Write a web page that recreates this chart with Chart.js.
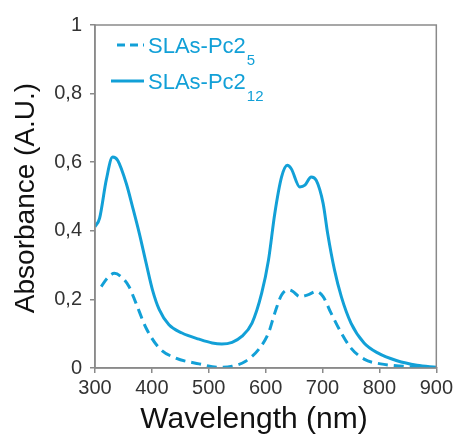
<!DOCTYPE html>
<html>
<head>
<meta charset="utf-8">
<script src="https://cdn.jsdelivr.net/npm/chart.js@4/dist/chart.umd.min.js"></script>
<style>
  html, body { margin: 0; padding: 0; background: #fff; }
  #wrap { width: 456px; height: 436px; }
</style>
</head>
<body>
<div id="wrap"><canvas id="chart" width="456" height="436"></canvas></div>
<script>
// SLAs-Pc2_12 (solid)
const wlSolid = [300, 308, 320, 331, 340, 355, 366, 378, 390, 401, 413, 430, 453, 483, 506, 523, 541, 558, 576, 593, 605, 616, 628, 638, 645, 660, 669, 680, 689, 701, 709, 721, 733, 750, 773, 797, 831, 866, 900];
const absSolid = [0.412, 0.436, 0.55, 0.615, 0.605, 0.538, 0.47, 0.392, 0.305, 0.228, 0.17, 0.126, 0.102, 0.084, 0.073, 0.07, 0.075, 0.092, 0.131, 0.218, 0.315, 0.45, 0.557, 0.591, 0.581, 0.528, 0.533, 0.557, 0.547, 0.48, 0.392, 0.286, 0.208, 0.131, 0.073, 0.044, 0.021, 0.008, 0.002];

// SLAs-Pc2_5 (dashed)
const wlDashed = [311, 320, 334, 346, 360, 372, 390, 413, 442, 483, 517, 541, 564, 587, 605, 616, 628, 640, 648, 660, 674, 689, 701, 715, 733, 750, 773, 802, 843, 900];
const absDashed = [0.237, 0.259, 0.276, 0.266, 0.237, 0.189, 0.116, 0.058, 0.029, 0.012, 0.002, 0.005, 0.019, 0.053, 0.102, 0.16, 0.213, 0.228, 0.223, 0.208, 0.213, 0.223, 0.208, 0.16, 0.102, 0.058, 0.026, 0.012, 0.005, 0];

const xTicks = [300, 400, 500, 600, 700, 800, 900];
const yTicks = [0, 0.2, 0.4, 0.6, 0.8, 1];

const blue = '#12a0d7';
const axisGray = '#8a8a8a';
const FONT = "'Liberation Sans', Arial, sans-serif";

const toPoints = (xs, ys) => xs.map((x, i) => ({ x: x, y: ys[i] }));

// frame, axis titles and legend (legend has subscripts, so drawn by hand)
const extras = {
  id: 'extras',
  afterDraw(chart) {
    const ctx = chart.ctx;
    const a = chart.chartArea;
    ctx.save();
    ctx.strokeStyle = axisGray;
    ctx.lineWidth = 1.5;
    ctx.strokeRect(a.left, a.top, a.right - a.left, a.bottom - a.top);

    // axis titles
    ctx.fillStyle = '#111';
    ctx.textAlign = 'center';
    ctx.textBaseline = 'middle';
    ctx.font = '30px ' + FONT;
    ctx.fillText('Wavelength (nm)', 254, 420);
    ctx.save();
    ctx.translate(26, 198);
    ctx.rotate(-Math.PI / 2);
    ctx.font = '28px ' + FONT;
    ctx.fillText('Absorbance (A.U.)', 0, 0);
    ctx.restore();

    // legend
    ctx.strokeStyle = blue;
    ctx.lineWidth = 3;
    ctx.setLineDash([8, 5]);
    ctx.beginPath();
    ctx.moveTo(117, 45);
    ctx.lineTo(144, 45);
    ctx.stroke();
    ctx.setLineDash([]);
    ctx.beginPath();
    ctx.moveTo(111, 81);
    ctx.lineTo(144, 81);
    ctx.stroke();

    ctx.fillStyle = blue;
    ctx.textAlign = 'left';
    ctx.textBaseline = 'alphabetic';
    ctx.font = '22px ' + FONT;
    ctx.fillText('SLAs-Pc2', 148, 53);
    let w = ctx.measureText('SLAs-Pc2').width;
    ctx.fillText('SLAs-Pc2', 148, 89);
    ctx.font = '15px ' + FONT;
    ctx.fillText('5', 148 + w + 1, 65);
    ctx.fillText('12', 148 + w + 1, 101);
    ctx.restore();
  }
};

new Chart(document.getElementById('chart'), {
  type: 'line',
  data: {
    datasets: [
      {
        label: 'SLAs-Pc2_5',
        data: toPoints(wlDashed, absDashed),
        borderColor: blue,
        borderWidth: 3,
        borderDash: [10, 6],
        pointRadius: 0,
        cubicInterpolationMode: 'monotone',
        fill: false
      },
      {
        label: 'SLAs-Pc2_12',
        data: toPoints(wlSolid, absSolid),
        borderColor: blue,
        borderWidth: 3,
        pointRadius: 0,
        cubicInterpolationMode: 'monotone',
        fill: false
      }
    ]
  },
  options: {
    responsive: false,
    animation: false,
    layout: { padding: { left: 0, right: 17, top: 25, bottom: 0 } },
    plugins: { legend: { display: false }, tooltip: { enabled: false } },
    scales: {
      x: {
        type: 'linear',
        min: 300,
        max: 900,
        afterBuildTicks: (s) => { s.ticks = xTicks.map(v => ({ value: v })); },
        afterFit: (s) => { s.height = 68; },
        ticks: { color: '#333', font: { family: FONT, size: 20 }, padding: 3 },
        grid: { drawOnChartArea: false, tickLength: 5, color: axisGray, lineWidth: 1.5 },
        border: { color: axisGray, width: 1.5 }
      },
      y: {
        min: 0,
        max: 1,
        afterBuildTicks: (s) => { s.ticks = yTicks.map(v => ({ value: v })); },
        afterFit: (s) => { s.width = 95; },
        ticks: {
          color: '#333',
          font: { family: FONT, size: 20 },
          padding: 8,
          callback: (v) => (v === 0 || v === 1) ? String(v) : v.toFixed(1).replace('.', ',')
        },
        grid: { drawOnChartArea: false, tickLength: 5, color: axisGray, lineWidth: 1.5 },
        border: { color: axisGray, width: 1.5 }
      }
    }
  },
  plugins: [extras]
});
</script>
</body>
</html>
